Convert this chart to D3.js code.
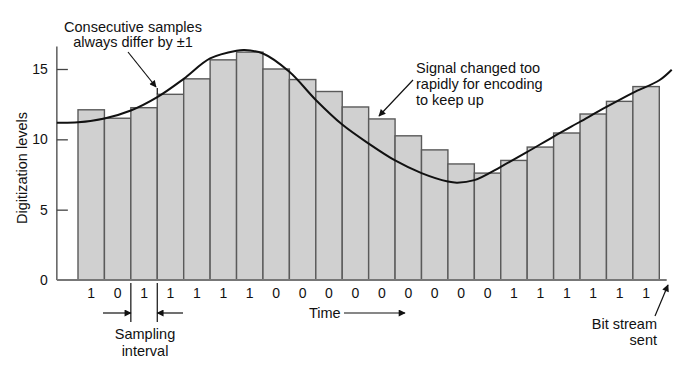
<!DOCTYPE html>
<html>
<head>
<meta charset="utf-8">
<script src="https://cdn.jsdelivr.net/npm/d3@7"></script>
<style>
  body { margin: 0; background: #fff; }
  text { font-family: "Liberation Sans", Arial, sans-serif; fill: #111; }
</style>
</head>
<body>
<div id="chart"></div>
<script>
// sampled digitization levels, one per sampling interval
var levels = [12.1, 11.5, 12.25, 13.2, 14.3, 15.65, 16.2, 15.0, 14.25, 13.4, 12.3,
              11.45, 10.25, 9.25, 8.25, 7.6, 8.5, 9.45, 10.45, 11.8, 12.7, 13.75];
var bits = ["1","0","1","1","1","1","1","0","0","0","0","0","0","0","0","0","1","1","1","1","1","1"];

// the analog signal (time in sampling intervals, level)
var signalT = [-0.8, 0, 1, 2, 3, 4, 5, 6, 6.3, 7, 8, 9, 10, 11, 12, 13, 14, 14.35, 15, 16, 17, 18, 19, 20, 21, 22, 22.47];
var signalV = [11.18, 11.21, 11.48, 12.05, 13.0, 14.3, 15.75, 16.3, 16.35, 16.1, 14.8, 12.8, 11.05, 9.7, 8.5, 7.6, 7.0, 6.92, 7.1, 8.05, 9.1, 10.2, 11.25, 12.3, 13.3, 14.2, 14.95];

var yTicks = [0, 5, 10, 15];

var width = 675, height = 376;
var fs = "14.5px";

var svg = d3.select("#chart")
    .append("svg")
    .attr("width", width)
    .attr("height", height);

/* SCALES */
var x = d3.scaleLinear().domain([0, levels.length]).range([78, 659.3]);
var y = d3.scaleLinear().domain([0, 15]).range([280, 69]);

var arrowHead = function(id) {
    svg.append("defs").append("marker")
        .attr("id", id)
        .attr("viewBox", "0 0 10 10")
        .attr("refX", 9).attr("refY", 5)
        .attr("markerWidth", 9).attr("markerHeight", 7)
        .attr("markerUnits", "userSpaceOnUse")
        .attr("orient", "auto")
      .append("path")
        .attr("d", "M0,0 L10,5 L0,10 Z")
        .attr("fill", "#111");
};
arrowHead("arr");

/* BARS */
svg.append("g")
    .selectAll("rect")
    .data(levels)
    .enter()
    .append("rect")
        .attr("x", (d, i) => x(i))
        .attr("y", d => y(d))
        .attr("width", x(1) - x(0))
        .attr("height", d => y(0) - y(d))
        .attr("fill", "#d0d0d0")
        .attr("stroke", "#5a5a5a")
        .attr("stroke-width", 1.4);

/* AXES */
svg.append("line")
    .attr("x1", x(-0.8)).attr("x2", x(-0.8))
    .attr("y1", y(0)).attr("y2", y(16.6))
    .attr("stroke", "#444").attr("stroke-width", 1.3);

var yAxis = svg.append("g")
    .attr("transform", `translate(${x(-0.8)},0)`)
    .call(d3.axisLeft(y).tickValues(yTicks).tickSize(-11).tickPadding(9));
yAxis.select(".domain").remove();
yAxis.selectAll(".tick line").attr("stroke", "#444").attr("stroke-width", 1.3);
yAxis.selectAll(".tick line").filter(d => d === 0).remove();
yAxis.selectAll("text")
    .style("font-family", "'Liberation Sans', Arial, sans-serif")
    .style("font-size", "14px")
    .attr("fill", "#111");

svg.append("line")
    .attr("x1", x(-0.8)).attr("x2", x(22.28))
    .attr("y1", y(0)).attr("y2", y(0))
    .attr("stroke", "#777").attr("stroke-width", 2.2);

svg.append("text")
    .attr("transform", `translate(27,${168}) rotate(-90)`)
    .attr("text-anchor", "middle")
    .style("font-size", fs)
    .text("Digitization levels");

/* SIGNAL */
var line = d3.line()
    .x((d, i) => x(signalT[i]))
    .y(d => y(d))
    .curve(d3.curveCatmullRom.alpha(0.5));

svg.append("path")
    .datum(signalV)
    .attr("d", line)
    .attr("fill", "none")
    .attr("stroke", "#111")
    .attr("stroke-width", 2);

/* BIT STREAM */
svg.append("g")
    .selectAll("text")
    .data(bits)
    .enter()
    .append("text")
        .attr("x", (d, i) => x(i + 0.5))
        .attr("y", 298)
        .attr("text-anchor", "middle")
        .style("font-size", "14px")
        .text(d => d);

/* ANNOTATIONS */
var label = function(lines, xx, yy, anchor, dy) {
    var t = svg.append("text")
        .attr("text-anchor", anchor)
        .style("font-size", fs);
    lines.forEach(function(s, i) {
        t.append("tspan").attr("x", xx).attr("y", yy + i * dy).text(s);
    });
};

var arrow = function(x1, y1, x2, y2) {
    svg.append("line")
        .attr("x1", x1).attr("y1", y1).attr("x2", x2).attr("y2", y2)
        .attr("stroke", "#111").attr("stroke-width", 1.2)
        .attr("marker-end", "url(#arr)");
};

label(["Consecutive samples", "always differ by \u00B11"], 133, 32, "middle", 15);
arrow(128, 52, 156, 87);
svg.append("line")
    .attr("x1", x(3)).attr("x2", x(3))
    .attr("y1", 88).attr("y2", y(levels[3]))
    .attr("stroke", "#111").attr("stroke-width", 1.2);

label(["Signal changed too", "rapidly for encoding", "to keep up"], 416, 73, "start", 16);
arrow(413, 80, 379, 116);

// sampling interval
[2, 3].forEach(function(i) {
    svg.append("line")
        .attr("x1", x(i)).attr("x2", x(i))
        .attr("y1", 283).attr("y2", 322)
        .attr("stroke", "#111").attr("stroke-width", 1.2);
});
arrow(103, 313, x(2), 313);
arrow(183, 313, x(3), 313);
label(["Sampling", "interval"], 145, 339, "middle", 17);

label(["Time"], 309, 318, "start", 0);
arrow(344, 313, 405, 313);

label(["Bit stream", "sent"], 657, 329, "end", 16);
arrow(655, 316, 668, 285);
</script>
</body>
</html>
